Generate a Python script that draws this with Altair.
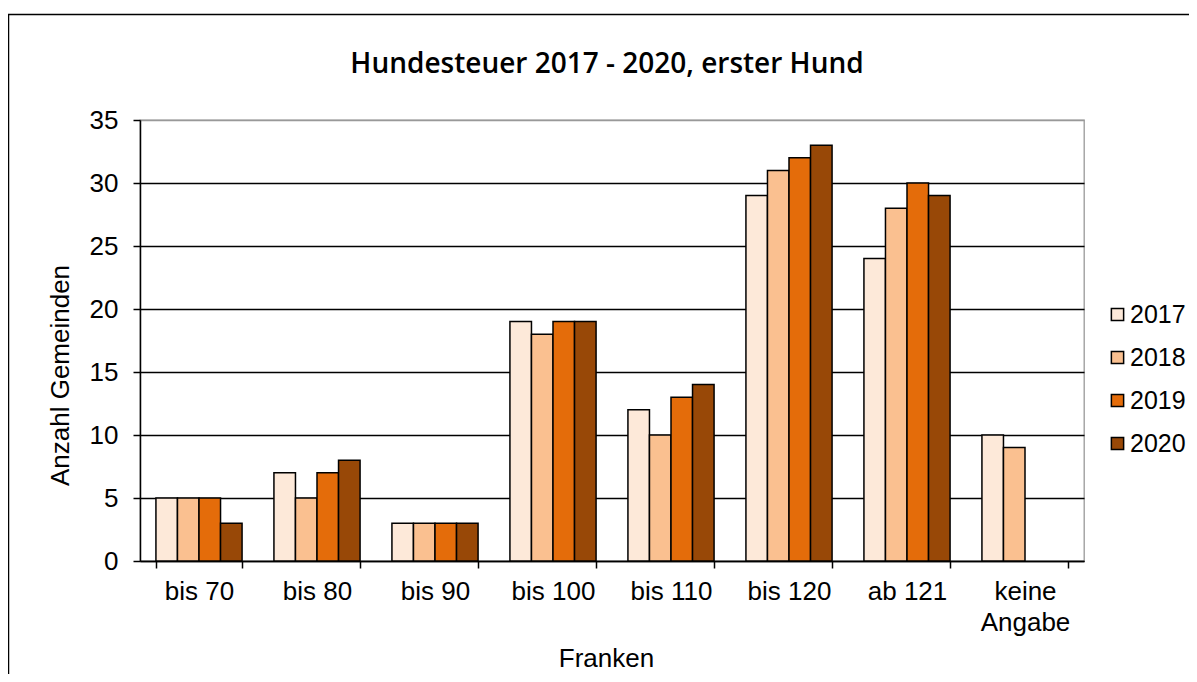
import altair as alt
import pandas as pd

categories = ["bis 70", "bis 80", "bis 90", "bis 100", "bis 110", "bis 120", "ab 121", "keine Angabe"]
years = ["2017", "2018", "2019", "2020"]
v2017 = [5, 7, 3, 19, 12, 29, 24, 10]
v2018 = [5, 5, 3, 18, 10, 31, 28, 9]
v2019 = [5, 7, 3, 19, 13, 32, 30, None]
v2020 = [3, 8, 3, 19, 14, 33, 29, None]
colors = ["#FDE9D9", "#FAC090", "#E46C0A", "#984807"]
title_text = "Hundesteuer 2017 - 2020, erster Hund"

rows = []
for y, vals in zip(years, [v2017, v2018, v2019, v2020]):
    for c, v in zip(categories, vals):
        if v is not None:
            rows.append({"Kategorie": c, "Jahr": y, "Anzahl": v})
df = pd.DataFrame(rows)

FONT = "Liberation Sans"
FS = 26

bars = alt.Chart(df).mark_bar(stroke="black", strokeWidth=1.5).encode(
    x=alt.X("Kategorie:N", sort=categories,
            scale=alt.Scale(paddingInner=0.27, paddingOuter=0.135),
            axis=alt.Axis(title="Franken", labelAngle=0, tickBand="extent",
                          labelExpr="datum.label == 'keine Angabe' ? ['keine', 'Angabe'] : datum.label",
                          labelLineHeight=31, labelPadding=10, tickSize=7, tickColor="black",
                          tickWidth=1.5, domainWidth=1.5,
                          labelFont=FONT, labelFontSize=FS, titleFont=FONT, titleFontSize=FS,
                          labelColor="black", titleColor="black", titleFontWeight="normal",
                          domainColor="black", titlePadding=10, titleX=466, grid=False)),
    xOffset=alt.XOffset("Jahr:N", sort=years),
    y=alt.Y("Anzahl:Q", scale=alt.Scale(domain=[0, 35]),
            axis=alt.Axis(title="Anzahl Gemeinden", values=[0, 5, 10, 15, 20, 25, 30, 35],
                          tickSize=7, tickColor="black", domainColor="black",
                          tickWidth=1.5, domainWidth=1.5,
                          labelFont=FONT, labelFontSize=FS, titleFont=FONT, titleFontSize=FS,
                          labelColor="black", titleColor="black", titleFontWeight="normal",
                          labelPadding=15, titlePadding=16, titleY=255,
                          gridColor={"condition": {"test": "datum.value == 35", "value": "#999999"}, "value": "black"},
                          gridWidth=1.3)),
    color=alt.Color("Jahr:N", sort=years, scale=alt.Scale(domain=years, range=colors),
                    legend=alt.Legend(title=None, orient="none", legendX=965, legendY=182,
                                      symbolType="square", symbolSize=150, symbolStrokeColor="black",
                                      symbolStrokeWidth=1.5, labelFontSize=25, labelFont=FONT,
                                      labelColor="black", rowPadding=17, labelOffset=0)),
)

frame = alt.Chart(pd.DataFrame({"a": [0]})).mark_rect(
    fill=None, stroke="black", strokeWidth=1.5, clip=False
).encode(
    x=alt.value(-131.5), x2=alt.value(1100), y=alt.value(-105.5), y2=alt.value(700)
)

title = alt.Chart(pd.DataFrame({"t": [title_text]})).mark_text(
    font="Open Sans", fontSize=28, fontWeight=600, color="black",
    align="center", baseline="middle", clip=False
).encode(
    text="t:N", x=alt.value(467), y=alt.value(-55)
)

chart = alt.layer(bars, frame, title).properties(
    width=944, height=441,
    padding={"left": 132, "top": 112, "right": 105, "bottom": 113},
    autosize=alt.AutoSizeParams(type="none"),
).configure_view(stroke="#999999", strokeWidth=1.3)

chart.save("out.html", embed_options={"renderer": "svg", "actions": False})
